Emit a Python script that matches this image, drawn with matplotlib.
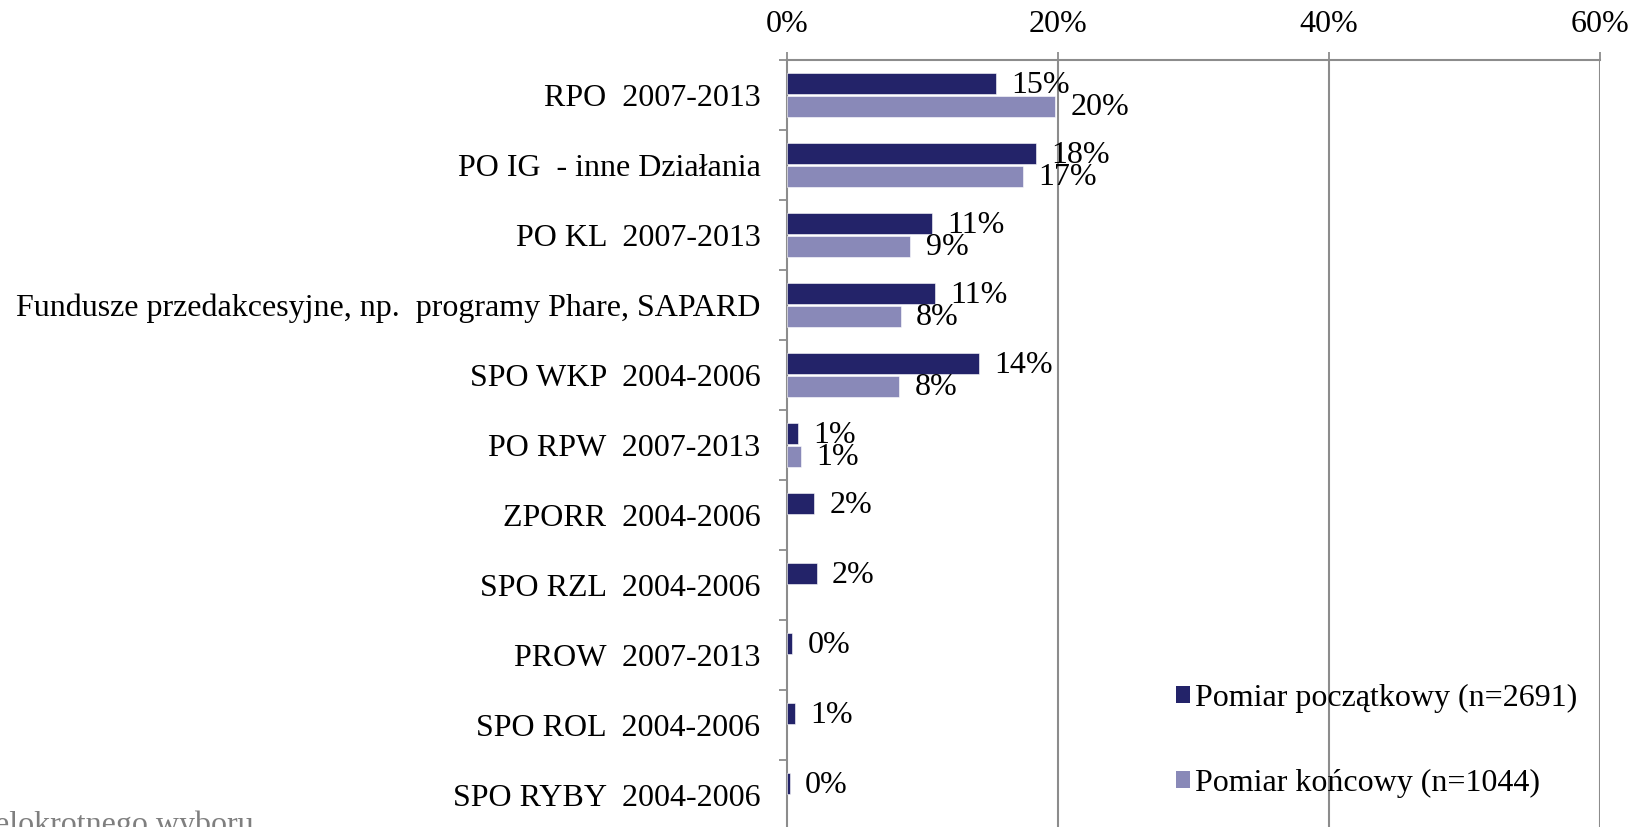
import numpy as np
import matplotlib.pyplot as plt
from matplotlib.patches import Patch

plt.rcParams['font.family'] = ['Liberation Serif', 'DejaVu Serif']

# data (percent)
categories = ["RPO  2007-2013", "PO IG  - inne Działania", "PO KL  2007-2013",
              "Fundusze przedakcesyjne, np.  programy Phare, SAPARD",
              "SPO WKP  2004-2006", "PO RPW  2007-2013", "ZPORR  2004-2006",
              "SPO RZL  2004-2006", "PROW  2007-2013", "SPO ROL  2004-2006",
              "SPO RYBY  2004-2006"]
poczatkowy = [15.4, 18.4, 10.7, 10.9, 14.2, 0.8, 2.0, 2.2, 0.4, 0.6, 0.2]
koncowy = [19.8, 17.4, 9.1, 8.4, 8.3, 1.0, np.nan, np.nan, np.nan, np.nan, np.nan]
series_names = ["Pomiar początkowy (n=2691)", "Pomiar końcowy (n=1044)"]
xticks = [0, 20, 40, 60]

c_dark = '#232369'
c_light = '#8989B8'
grid_c = '#8C8C8C'
fs = 23

fig = plt.figure(figsize=(16.45, 8.27), dpi=100)
ax = fig.add_axes([787/1645, -3/827, (1600-787)/1645, (830-60)/827])

y = np.arange(len(categories))
h = 0.30
off = 0.16
ax.barh(y - off, poczatkowy, height=h, color=c_dark, edgecolor='white', linewidth=0.4, zorder=3)
ax.barh(y + off, koncowy, height=h, color=c_light, edgecolor='white', linewidth=0.4, zorder=3)

# value labels, same overlap as the original
for vals, d in [(poczatkowy, -off), (koncowy, off)]:
    for i, v in enumerate(vals):
        if np.isnan(v):
            continue
        ax.annotate(f"{v:.0f}%", (v, i + d), xytext=(11, -1), textcoords='offset points',
                    va='center', ha='left', fontsize=fs, zorder=4)

ax.set_xlim(0, 60)
ax.set_ylim(len(categories) - 0.5, -0.5)
ax.xaxis.tick_top()
ax.set_xticks(xticks)
ax.set_xticklabels([f"{t}%" for t in xticks], fontsize=fs)
ax.tick_params(axis='x', length=6, width=1.3, color=grid_c, pad=9)
for t in xticks[1:]:
    ax.axvline(t, color=grid_c, lw=1.5, zorder=1)

ax.set_yticks(y)
ax.set_yticklabels(categories, fontsize=fs)
ax.set_yticks(np.arange(len(categories)) - 0.5, minor=True)
ax.tick_params(axis='y', which='major', length=0, pad=19)
ax.tick_params(axis='y', which='minor', length=6, width=1.3, color=grid_c)

for s in ['right', 'bottom']:
    ax.spines[s].set_visible(False)
for s in ['left', 'top']:
    ax.spines[s].set_color(grid_c)
    ax.spines[s].set_linewidth(1.5)

handles = [Patch(facecolor=c_dark), Patch(facecolor=c_light)]
fig.legend(handles, series_names, loc='center left', bbox_to_anchor=(1176/1645, 1 - 741/827),
           frameon=False, fontsize=fs, handlelength=0.45, handleheight=0.45,
           handletextpad=0.15, labelspacing=1.75, borderpad=0, borderaxespad=0)

# footnote, cut off by the bottom/left edge as in the original
fig.text(254/1645, 1 - 810/827, "Pytanie wielokrotnego wyboru", ha='right', va='top',
         fontsize=fs, color='#7F7F7F')

fig.savefig('out.png', dpi=100)
